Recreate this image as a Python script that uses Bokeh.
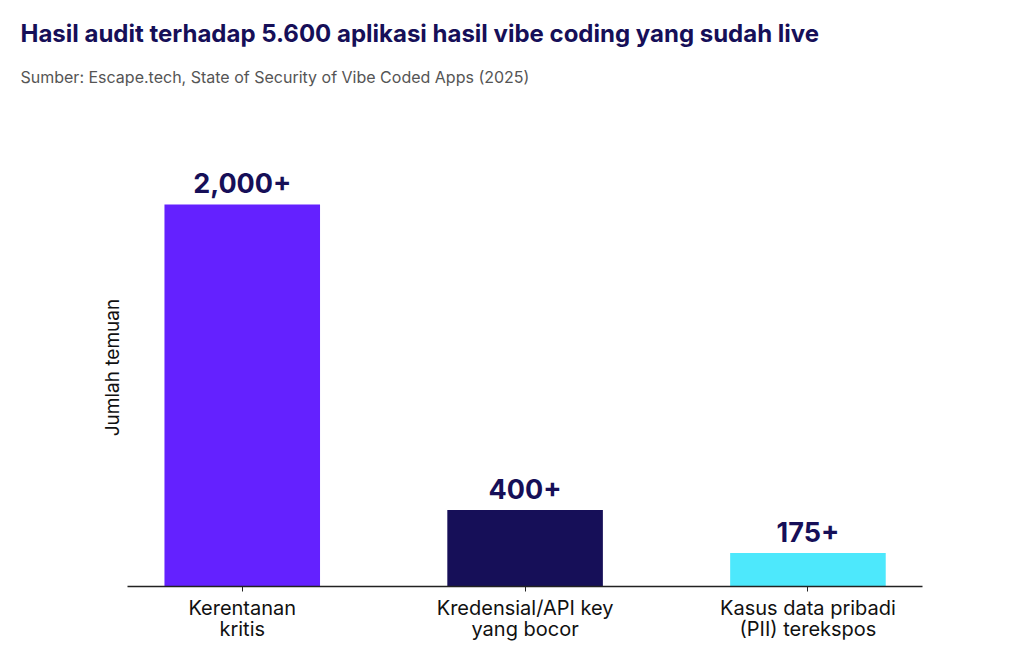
from bokeh.plotting import figure
from bokeh.models import Title, FixedTicker, ColumnDataSource, Range1d
from bokeh.core.properties import value
from bokeh.embed import file_html
from bokeh.resources import INLINE

categories = ["Kerentanan\nkritis", "Kredensial/API key\nyang bocor", "Kasus data pribadi\n(PII) terekspos"]
values = [2000, 400, 175]
value_labels = ["2,000+", "400+", "175+"]
colors = ["#6421FF", "#160F58", "#4DE8FC"]
title_text = "Hasil audit terhadap 5.600 aplikasi hasil vibe coding yang sudah live"
subtitle_text = "Sumber: Escape.tech, State of Security of Vibe Coded Apps (2025)"
y_label = "Jumlah temuan"

xs = list(range(len(categories)))
src = ColumnDataSource(dict(x=xs, top=values, label=value_labels, color=colors))

p = figure(width=1008, height=650, output_backend="svg", toolbar_location=None,
           x_range=Range1d(-0.4057, 2.405), y_range=Range1d(0, 2293),
           min_border_left=127, min_border_right=86, min_border_bottom=64,
           min_border_top=148, title=None)
p.outline_line_color = None
p.grid.grid_line_color = None
p.background_fill_color = "white"
p.border_fill_color = "white"

p.vbar(x="x", top="top", width=0.55, bottom=0, fill_color="color", line_color=None, source=src)
p.text(x="x", y="top", text="label", source=src, text_align="center",
       text_baseline="alphabetic", y_offset=-21,
       text_font=value("Inter"), text_font_style="bold", text_font_size="27px",
       text_color="#160F58")

# spacer between plot area and subtitle
spacer = Title(text=" ", text_font_size="1px", standoff=59, align="left")
p.add_layout(spacer, "above")
sub = Title(text=subtitle_text, text_font="Inter", text_font_size="16px",
            text_font_style="normal", text_color="#555555", align="left", offset=-107,
            standoff=0)
p.add_layout(sub, "above")
ttl = Title(text=title_text, text_font="Inter", text_font_size="24px",
            text_font_style="bold", text_color="#160F58", align="left", offset=-107,
            standoff=33)
p.add_layout(ttl, "above")

p.xaxis.ticker = FixedTicker(ticks=xs)
p.xaxis.major_label_overrides = {i: c for i, c in zip(xs, categories)}
p.xaxis.axis_line_color = "#222222"
p.xaxis.axis_line_width = 1.5
p.xaxis.major_tick_line_color = "#222222"
p.xaxis.major_tick_in = 0
p.xaxis.major_tick_out = 5
p.xaxis.minor_tick_line_color = None
p.xaxis.major_label_text_font = "Inter"
p.xaxis.major_label_text_font_size = "20px"
p.xaxis.major_label_text_line_height = 0.89
p.xaxis.major_label_text_color = "#111111"
p.xaxis.major_label_standoff = 4

p.yaxis.ticker = FixedTicker(ticks=[])
p.yaxis.axis_line_color = None
p.yaxis.major_tick_line_color = None
p.yaxis.minor_tick_line_color = None
p.yaxis.major_label_text_font_size = "0px"
p.yaxis.axis_label = y_label
p.yaxis.axis_label_text_font = "Inter"
p.yaxis.axis_label_text_font_size = "19px"
p.yaxis.axis_label_text_font_style = "normal"
p.yaxis.axis_label_text_color = "#111111"
p.yaxis.axis_label_standoff = 4

open("out.html", "w").write(file_html(p, INLINE))
